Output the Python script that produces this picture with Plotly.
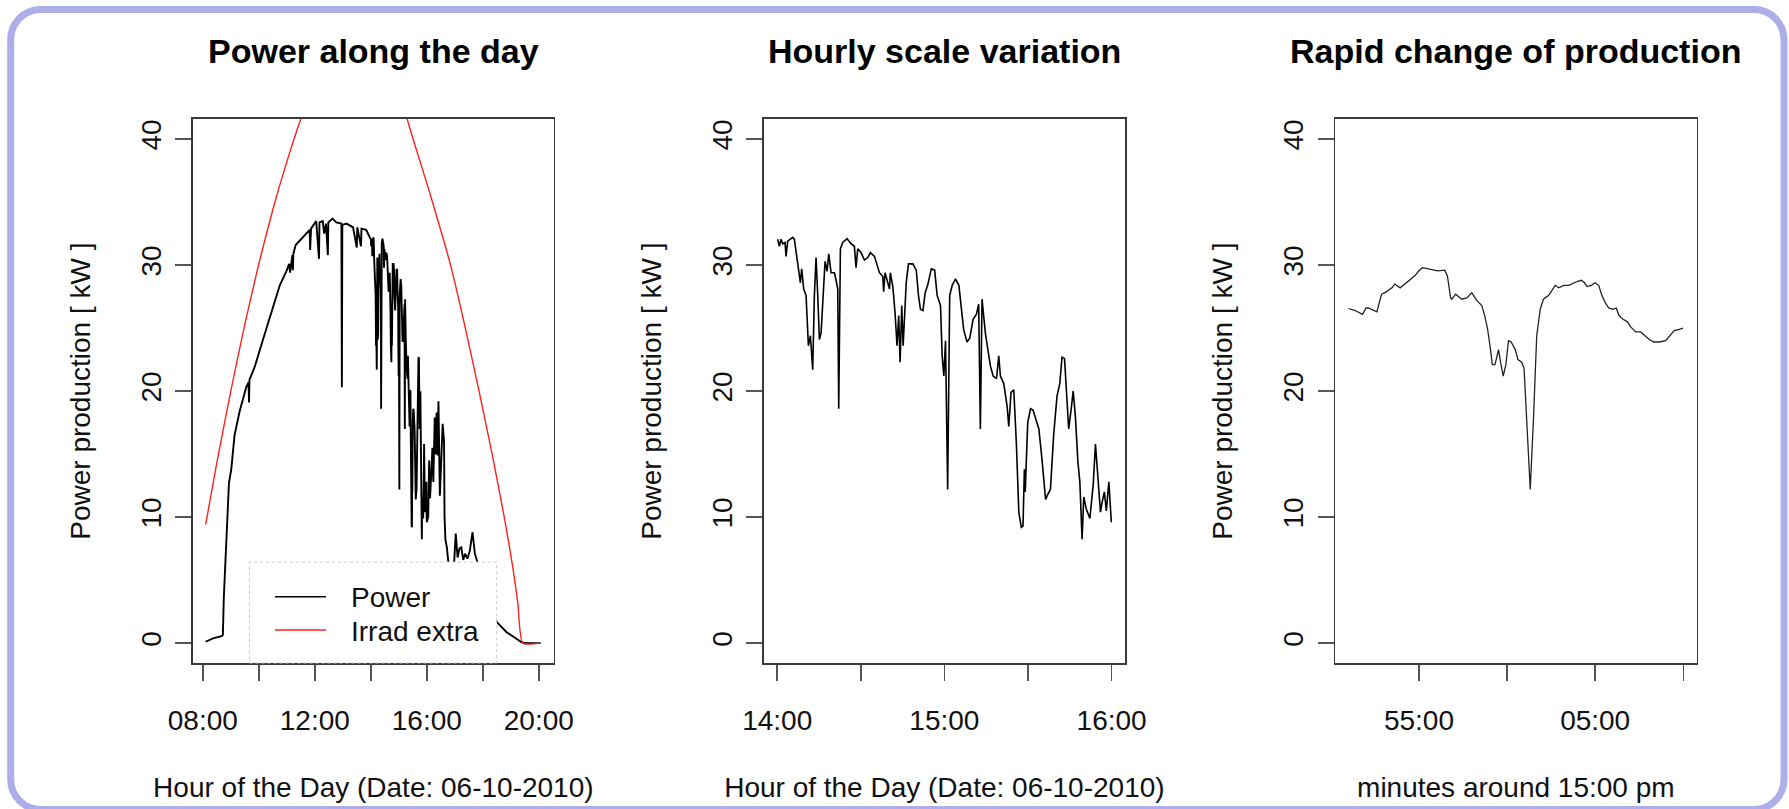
import plotly.graph_objects as go

DATE = "2010-10-06 "

# ---------------- Panel 1 : whole day (morning / evening parts) ----------------
day_am_time = ["08:06", "08:22", "08:40", "08:43", "08:45", "08:49", "08:53", "08:56",
               "09:01", "09:08", "09:19", "09:33", "09:38", "09:39", "09:40", "09:51",
               "10:09", "10:27", "10:45", "10:59", "11:05", "11:07", "11:12", "11:13",
               "11:14", "11:19", "11:35", "11:49", "11:50", "11:52", "12:03", "12:09",
               "12:10", "12:17", "12:20", "12:24", "12:28", "12:29", "12:38", "12:46",
               "12:57", "12:58", "12:59", "13:08", "13:22", "13:30", "13:31", "13:39",
               "13:40", "13:50", "13:58"]
day_am_power = [0.11, 0.38, 0.55, 0.65, 3.6, 7.3, 11.1, 12.7,
                13.8, 16.5, 18.4, 20.3, 20.7, 19.1, 20.9, 21.9,
                24.1, 26.2, 28.4, 29.5, 30.1, 29.4, 30.8, 29.6,
                30.9, 31.6, 32.2, 32.8, 31.2, 32.9, 33.5, 30.5,
                33.4, 33.5, 32.5, 33.3, 30.8, 33.4, 33.7, 33.4,
                33.3, 20.3, 33.2, 33.3, 33.0, 31.4, 33.0, 31.5,
                32.9, 32.8, 32.2]

day_pm_time = ["16:03", "16:05", "16:07", "16:10", "16:12", "16:14", "16:17", "16:19",
               "16:21", "16:23", "16:25", "16:28", "16:31", "16:34", "16:37", "16:38",
               "16:40", "16:43", "16:46", "16:52", "16:58", "17:02", "17:06", "17:10",
               "17:14", "17:18", "17:22", "17:27", "17:32", "17:38", "17:43", "17:48",
               "18:00", "18:12", "18:30", "18:51", "19:13", "19:23", "19:36", "20:04"]
day_pm_power = [10.0, 14.5, 11.5, 13.8, 15.5, 12.8, 17.9, 15.0,
                18.3, 14.9, 19.2, 11.7, 15.5, 17.4, 16.0, 10.0,
                8.2, 7.6, 6.5, 5.8, 6.0, 8.7, 6.8, 7.5,
                7.6, 6.6, 7.1, 6.7, 7.3, 8.8, 7.1, 6.5,
                5.0, 3.6, 1.67, 0.87, 0.33, 0.06, 0.0, 0.0]

# extraterrestrial irradiance curve (values above 41.6 lie outside the visible frame)
irrad_time = ["08:06", "08:30", "09:00", "09:30", "10:00", "10:30", "11:00", "11:30",
              "12:00", "12:30", "13:00", "13:30", "14:00", "14:30", "15:00", "15:18",
              "16:05", "16:51", "17:22", "17:52", "18:20", "18:46", "19:04", "19:15",
              "19:26", "20:04"]
irrad_value = [9.4, 14.3, 20.0, 25.3, 30.1, 34.4, 38.2, 41.6,
               44.5, 46.8, 48.3, 48.9, 48.5, 47.2, 44.6, 41.6,
               35.9, 30.0, 25.1, 20.0, 15.0, 10.0, 6.1, 3.2,
               0.0, 0.0]

# ---------------- Panel 2 : 14:00 - 16:00 ----------------
hour_time = ["14:00:11", "14:00:47", "14:01:23", "14:01:59", "14:02:49", "14:03:11", "14:03:47",
             "14:05:34", "14:06:10", "14:07:22", "14:07:58", "14:08:20", "14:08:48", "14:09:31",
             "14:10:22", "14:11:12", "14:11:55", "14:12:45", "14:13:21", "14:13:57", "14:14:33",
             "14:15:09", "14:15:45", "14:16:21", "14:17:11", "14:17:54", "14:18:30", "14:19:20",
             "14:20:32", "14:21:08", "14:21:44", "14:22:05", "14:22:41", "14:23:31", "14:25:04",
             "14:26:30", "14:27:42", "14:28:18", "14:28:54", "14:30:06", "14:31:18", "14:32:30",
             "14:33:27", "14:34:54", "14:36:42", "14:37:54", "14:38:12", "14:38:42", "14:39:42",
             "14:40:18", "14:40:36", "14:41:30", "14:42:18", "14:43:00", "14:43:36", "14:44:06",
             "14:44:42", "14:45:12", "14:46:18", "14:47:06", "14:48:42", "14:49:54", "14:50:42",
             "14:51:24", "14:52:18", "14:53:06", "14:54:06", "14:55:18", "14:56:30", "14:57:24",
             "14:58:36", "14:59:12", "14:59:48", "15:00:24", "15:01:10", "15:01:54", "15:02:48",
             "15:03:57", "15:05:12", "15:06:00", "15:06:54", "15:08:06", "15:09:06", "15:10:18",
             "15:11:30", "15:12:18", "15:12:54", "15:13:30", "15:14:42", "15:16:30", "15:17:30",
             "15:18:42", "15:19:30", "15:20:06", "15:21:18", "15:22:30", "15:23:06", "15:23:54",
             "15:24:54", "15:25:51", "15:26:42", "15:27:36", "15:28:12", "15:28:42", "15:29:00",
             "15:29:54", "15:30:54", "15:31:48", "15:32:42", "15:33:54", "15:35:06", "15:36:18",
             "15:37:06", "15:38:03", "15:39:12", "15:40:24", "15:41:24", "15:42:12", "15:43:06",
             "15:44:00", "15:44:36", "15:45:30", "15:46:12", "15:47:00", "15:47:54", "15:48:36",
             "15:49:24", "15:50:00", "15:50:58", "15:52:12", "15:53:24", "15:54:12", "15:55:00",
             "15:56:00", "15:56:36", "15:57:24", "15:58:06", "15:59:00", "15:59:54"]
hour_power = [32.06, 31.5, 32.06, 31.7, 31.8, 30.7, 31.9,
              32.2, 32.06, 30.3, 29.4, 28.6, 29.7, 28.1,
              27.6, 23.6, 24.4, 21.7, 27.6, 30.6, 27.6,
              24.1, 24.6, 27.1, 30.3, 29.5, 30.9, 29.4,
              29.4, 28.8, 28.1, 18.6, 31.3, 31.8, 32.1,
              31.7, 31.5, 29.8, 31.3, 31.0, 30.4, 30.6,
              31.0, 30.7, 29.4, 29.1, 27.9, 29.4, 28.6,
              28.1, 29.4, 28.3, 26.2, 23.6, 26.0, 22.3,
              26.8, 23.6, 28.6, 30.1, 30.1, 29.6, 27.6,
              26.5, 26.4, 27.8, 28.5, 29.7, 29.6, 27.6,
              26.8, 22.8, 21.2, 24.0, 12.2, 27.6, 28.4,
              28.9, 28.4, 26.8, 24.9, 23.9, 24.2, 25.7,
              26.1, 26.9, 17.0, 27.3, 24.6, 22.0, 21.2,
              21.0, 22.8, 21.2, 20.6, 18.8, 17.2, 19.9,
              20.1, 15.7, 10.4, 9.2, 9.3, 13.8, 12.0,
              17.5, 18.6, 18.5, 17.8, 17.0, 14.4, 11.4,
              11.8, 12.2, 16.5, 19.6, 20.6, 22.7, 22.6,
              19.6, 17.0, 18.6, 20.0, 18.0, 14.4, 12.8,
              8.25, 11.6, 10.6, 9.9, 12.6, 15.8, 13.5,
              10.4, 11.2, 12.0, 10.5, 12.8, 9.6]

# ---------------- Panel 3 : minutes around 15:00 ----------------
rapid_time = ["14:51:00", "14:51:23", "14:51:48", "14:52:00", "14:52:08", "14:52:19", "14:52:37",
              "14:52:53", "14:53:10", "14:53:28", "14:53:38", "14:53:56", "14:54:13", "14:54:30",
              "14:54:46", "14:55:00", "14:55:12", "14:55:32", "14:56:04", "14:56:28", "14:56:37",
              "14:56:48", "14:56:52", "14:57:05", "14:57:26", "14:57:43", "14:58:00", "14:58:17",
              "14:58:34", "14:58:44", "14:58:54", "14:59:02", "14:59:10", "14:59:19", "14:59:31",
              "14:59:38", "14:59:47", "14:59:56", "15:00:05", "15:00:14", "15:00:28", "15:00:37",
              "15:00:50", "15:00:58", "15:01:07", "15:01:19", "15:01:30", "15:01:41", "15:01:53",
              "15:02:04", "15:02:22", "15:02:33", "15:02:44", "15:02:56", "15:03:13", "15:03:30",
              "15:03:47", "15:03:58", "15:04:13", "15:04:24", "15:04:32", "15:04:47", "15:05:00",
              "15:05:12", "15:05:23", "15:05:35", "15:05:46", "15:06:00", "15:06:12", "15:06:21",
              "15:06:35", "15:06:50", "15:07:01", "15:07:18", "15:07:35", "15:07:46", "15:08:04",
              "15:08:20", "15:08:38", "15:09:00", "15:09:17", "15:09:29", "15:09:46", "15:09:59"]
rapid_power = [26.56, 26.4, 26.1, 26.6, 26.6, 26.5, 26.3,
               27.7, 27.9, 28.2, 28.5, 28.2, 28.5, 28.8,
               29.15, 29.55, 29.8, 29.7, 29.55, 29.6, 29.15,
               27.4, 27.3, 27.7, 27.3, 27.4, 27.8, 27.2,
               26.8, 26.0, 24.9, 23.6, 22.1, 22.1, 23.3,
               22.3, 21.2, 22.1, 24.0, 23.9, 23.3, 22.5,
               22.3, 21.8, 17.8, 12.2, 17.8, 24.4, 26.5,
               27.3, 27.6, 28.0, 28.4, 28.2, 28.4, 28.4,
               28.6, 28.7, 28.8, 28.6, 28.3, 28.4, 28.6,
               28.4, 27.6, 27.0, 26.6, 26.5, 26.6, 26.0,
               25.7, 25.5, 25.1, 24.7, 24.7, 24.5, 24.1,
               23.9, 23.9, 24.0, 24.5, 24.8, 24.9, 25.0]

titles = ["Power along the day", "Hourly scale variation", "Rapid change of production"]
x_titles = ["Hour of the Day (Date: 06-10-2010)", "Hour of the Day (Date: 06-10-2010)",
            "minutes around 15:00 pm"]
y_title = "Power production [ kW ]"
legend_names = ["Power", "Irrad extra"]
legend_colors = ["black", "#ff2020"]
y_ticks = [0, 10, 20, 30, 40]
x1_ticks = ["08:00", "10:00", "12:00", "14:00", "16:00", "18:00", "20:00"]
x1_labels = ["08:00", "", "12:00", "", "16:00", "", "20:00"]
x2_ticks = ["14:00", "14:30", "15:00", "15:30", "16:00"]
x2_labels = ["14:00", "", "15:00", "", "16:00"]
x3_ticks = ["14:55", "15:00", "15:05", "15:10"]
x3_labels = ["55:00", "", "05:00", ""]

FONT = "Liberation Sans, Arial, Helvetica, sans-serif"
W, H = 1789, 809


def px(x):
    return x / W


def py(y):
    return 1 - y / H


def d(ts):
    return [DATE + t for t in ts]


fig = go.Figure()

fig.add_trace(go.Scatter(
    x=d(day_am_time + hour_time + day_pm_time),
    y=day_am_power + hour_power + day_pm_power,
    mode="lines", name=legend_names[0], line=dict(color=legend_colors[0], width=1.9),
    xaxis="x", yaxis="y", showlegend=False))
fig.add_trace(go.Scatter(
    x=d(irrad_time), y=irrad_value, mode="lines", name=legend_names[1],
    line=dict(color=legend_colors[1], width=1.4, shape="spline", smoothing=0.6),
    xaxis="x", yaxis="y", showlegend=False))
fig.add_trace(go.Scatter(
    x=d(hour_time), y=hour_power, mode="lines", name="Power",
    line=dict(color="black", width=1.6), xaxis="x2", yaxis="y2", showlegend=False))
fig.add_trace(go.Scatter(
    x=d(rapid_time), y=rapid_power, mode="lines", name="Power",
    line=dict(color="#222222", width=1.3), xaxis="x3", yaxis="y3", showlegend=False))

Y_DOM = [py(663.3), py(119)]
X_DOMS = [[px(192.9), px(553.8)], [px(763.8), px(1125)], [px(1335.2), px(1696.5)]]
X_RANGES = [[DATE + "07:38:46", DATE + "20:32:10"],
            [DATE + "13:55:12", DATE + "16:04:48"],
            [DATE + "14:50:15", DATE + "15:10:45"]]
X_TICKS = [(x1_ticks, x1_labels), (x2_ticks, x2_labels), (x3_ticks, x3_labels)]

common = dict(showline=True, mirror=True, linecolor="#3a3a3a", linewidth=1.6,
              ticks="outside", ticklen=16, tickwidth=1.5, tickcolor="#555555",
              showgrid=False, zeroline=False, automargin=False,
              tickfont=dict(family=FONT, size=28, color="#111111"))

layout = dict(width=W, height=H, margin=dict(l=0, r=0, t=0, b=0),
              paper_bgcolor="white", plot_bgcolor="white",
              font=dict(family=FONT, size=28, color="#111111"),
              showlegend=False)

for i in range(3):
    sfx = "" if i == 0 else str(i + 1)
    tv, tt = X_TICKS[i]
    layout["xaxis" + sfx] = dict(common, domain=X_DOMS[i], anchor="y" + sfx, type="date",
                                 range=X_RANGES[i], tickmode="array",
                                 tickvals=[DATE + t for t in tv], ticktext=tt,
                                 ticklabelstandoff=15,
                                 title=dict(text=x_titles[i], standoff=43,
                                            font=dict(family=FONT, size=28, color="#111111")))
    layout["yaxis" + sfx] = dict(common, domain=Y_DOM, anchor="x" + sfx, range=[-1.6, 41.6],
                                 tickmode="array", tickvals=y_ticks,
                                 ticktext=[str(v) for v in y_ticks], tickangle=-90,
                                 ticklabelstandoff=3,
                                 title=dict(text=y_title, standoff=37,
                                            font=dict(family=FONT, size=28, color="#111111")))

annotations = []
for i in range(3):
    cx = (X_DOMS[i][0] + X_DOMS[i][1]) / 2
    annotations.append(dict(text=titles[i], x=cx, y=py(51), xref="paper", yref="paper",
                            xanchor="center", yanchor="middle", showarrow=False,
                            font=dict(family=FONT, size=34, color="black", weight="bold")))

# legend of panel 1 (box with dotted frame, line keys, labels)
shapes = [dict(type="rect", xref="paper", yref="paper", x0=px(249.5), x1=px(496.7),
               y0=py(663), y1=py(562), fillcolor="white",
               line=dict(color="#c8c8c8", width=1, dash="dot"), layer="above")]
legend_rows = [596.7, 630.0]
for name, col, yrow in zip(legend_names, legend_colors, legend_rows):
    shapes.append(dict(type="line", xref="paper", yref="paper", x0=px(275), x1=px(326),
                       y0=py(yrow), y1=py(yrow), line=dict(color=col, width=1.5),
                       layer="above"))
    annotations.append(dict(text=name, x=px(349), y=py(yrow + 1), xref="paper", yref="paper",
                            xanchor="left", yanchor="middle", showarrow=False,
                            font=dict(family=FONT, size=28, color="#111111")))
layout["annotations"] = annotations

# rounded outer frame
L, T, R, B, r = 10.7, 9.5, 1784.0, 809.5, 30.0
k = 0.5523 * r


def P(x, y):
    return f"{px(x):.6f},{py(y):.6f}"


path = (f"M {P(L + r, T)} L {P(R - r, T)} C {P(R - r + k, T)} {P(R, T + r - k)} {P(R, T + r)} "
        f"L {P(R, B - r)} C {P(R, B - r + k)} {P(R - r + k, B)} {P(R - r, B)} "
        f"L {P(L + r, B)} C {P(L + r - k, B)} {P(L, B - r + k)} {P(L, B - r)} "
        f"L {P(L, T + r)} C {P(L, T + r - k)} {P(L + r - k, T)} {P(L + r, T)} Z")
shapes.append(dict(type="path", xref="paper", yref="paper", path=path,
                   line=dict(color="#adadea", width=7), layer="above"))
layout["shapes"] = shapes

fig.update_layout(layout)
fig.write_html("out.html", config={"displayModeBar": False, "staticPlot": True},
               post_script="document.body.style.margin='0px';document.body.style.padding='0px';")
